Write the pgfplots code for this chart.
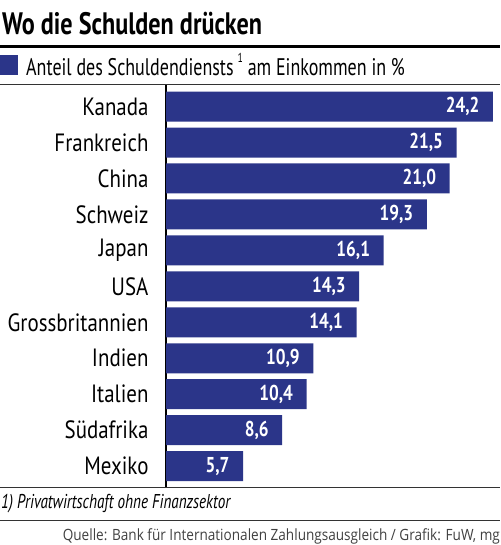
\documentclass[border=0pt]{standalone}
\usepackage{fontspec}
\setmainfont{PT Sans}[FakeStretch=0.8]
\newfontfamily\titlefont{PT Sans}[FakeStretch=0.78]
\newfontfamily\labfont{PT Sans}[FakeStretch=0.837]
\newfontfamily\legfont{PT Sans}[FakeStretch=0.75]
\newfontfamily\notefont{PT Sans}[FakeStretch=0.757]
\newfontfamily\srcfont{Open Sans}[FakeStretch=0.876]
\usepackage{pgfplots}
\pgfplotsset{compat=1.18}
\definecolor{barblue}{HTML}{2B3589}
\definecolor{rulegray}{HTML}{333333}
\begin{document}
\begin{tikzpicture}[x=1pt,y=1pt]
\path[use as bounding box] (0,0) rectangle (500,-545);
\node[anchor=base west, inner sep=0, font=\titlefont\fontsize{31}{32}\selectfont\bfseries] at (2,-35) {Wo die Schulden drücken};
\draw[line width=2.5pt] (0,-46.5) -- (500,-46.5);
\draw[line width=1pt, rulegray] (0,-85) -- (500,-85);
\begin{axis}[
  at={(166pt,-487pt)}, anchor=south west, scale only axis,
  width=334pt, height=402pt,
  xbar, bar width=30pt, bar shift=0pt,
  xmin=0, xmax=24.72, ymin=-0.6, ymax=10.58, y dir=reverse,
  axis x line=none, axis y line=left,
  axis line style={-, line width=1.2pt, black},
  ytick={0,...,10},
  yticklabels={Kanada,Frankreich,China,Schweiz,Japan,USA,Grossbritannien,Indien,Italien,Südafrika,Mexiko},
  major tick length=0pt,
  yticklabel style={font=\labfont\fontsize{25}{25}\selectfont, anchor=east, xshift=-14pt},
  point meta=explicit symbolic,
  nodes near coords,
  nodes near coords style={anchor=east, text=white, font=\fontsize{21.5}{22}\selectfont\bfseries, xshift=-10pt},
  legend style={at={(-0.497,1.0846)}, anchor=north west, draw=none, fill=none, inner sep=0pt,
    font=\legfont\fontsize{24}{24}\selectfont, cells={anchor=west},
    /tikz/every odd column/.append style={column sep=6pt}},
  legend image code/.code={\fill[barblue] (0pt,-10pt) rectangle (18pt,10pt);},
  clip=false,
]
\addplot[fill=barblue, draw=none] coordinates {
  (24.2,0) [24,2]
  (21.5,1) [21,5]
  (21.0,2) [21,0]
  (19.3,3) [19,3]
  (16.1,4) [16,1]
  (14.3,5) [14,3]
  (14.1,6) [14,1]
  (10.9,7) [10,9]
  (10.4,8) [10,4]
  (8.6,9) [8,6]
  (5.7,10) [5,7]
};
\addlegendentry{Anteil des Schuldendiensts\,\raisebox{0.55em}{\fontsize{13}{13}\selectfont 1} am Einkommen in \%}
\end{axis}
\draw[line width=1pt, rulegray] (0,-487) -- (500,-487);
\node[anchor=base west, inner sep=0, font=\notefont\fontsize{20}{20}\selectfont\itshape] at (1,-508) {1) Privatwirtschaft ohne Finanzsektor};
\draw[line width=1pt, rulegray] (0,-520) -- (500,-520);
\node[anchor=base east, inner sep=0, text=black!75, font=\srcfont\fontsize{15.5}{16}\selectfont] at (500,-540) {Quelle: Bank für Internationalen Zahlungsausgleich / Grafik: FuW, mg};
\end{tikzpicture}
\end{document}
